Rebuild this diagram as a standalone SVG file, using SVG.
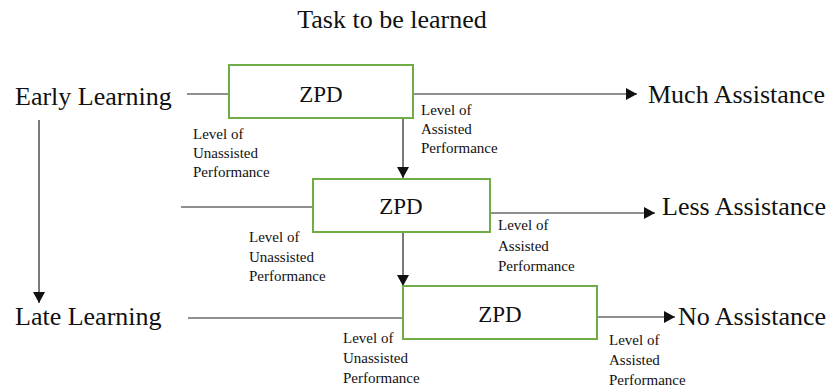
<svg xmlns="http://www.w3.org/2000/svg" width="834" height="392" viewBox="0 0 834 392">
<style>
text{font-family:"Liberation Serif","Times New Roman",serif;fill:#111}
.big{font-size:26px}
.zpd{font-size:23px;text-anchor:middle}
.lbl{font-size:15px}
.box{fill:#fff;stroke:#70AD47;stroke-width:2}
.con{stroke:#222;stroke-width:1.2;fill:none}
</style>
<defs>
<marker id="ah" markerUnits="userSpaceOnUse" markerWidth="11" markerHeight="12" viewBox="0 0 11 12" refX="11" refY="6" orient="auto">
<path d="M0,0 L11,6 L0,12 z" fill="#111"/>
</marker>
</defs>
<rect width="834" height="392" fill="#fff"/>
<text id="title" class="big" x="392" y="28" text-anchor="middle">Task to be learned</text>

<g id="connectors">
<line class="con" x1="187" y1="94" x2="229" y2="94"/>
<line class="con" x1="413" y1="94" x2="637" y2="94" marker-end="url(#ah)"/>
<line class="con" x1="403" y1="118" x2="403" y2="178" marker-end="url(#ah)"/>
<line class="con" x1="181" y1="207" x2="313" y2="207"/>
<line class="con" x1="490" y1="213" x2="655" y2="213" marker-end="url(#ah)"/>
<line class="con" x1="403" y1="232" x2="403" y2="286" marker-end="url(#ah)"/>
<line class="con" x1="188" y1="318" x2="403" y2="318"/>
<line class="con" x1="597" y1="317" x2="675" y2="317" marker-end="url(#ah)"/>
<line class="con" x1="39" y1="120" x2="39" y2="303" marker-end="url(#ah)"/>
</g>

<g id="early"><text class="big" x="15" y="105">Early Learning</text></g>
<g id="late"><text class="big" x="15" y="325">Late Learning</text></g>

<g id="zpd1">
<rect class="box" x="229" y="65" width="184" height="53"/>
<text class="zpd" x="321" y="102">ZPD</text>
</g>
<g id="zpd2">
<rect class="box" x="313" y="179" width="177" height="53"/>
<text class="zpd" x="401" y="214">ZPD</text>
</g>
<g id="zpd3">
<rect class="box" x="403" y="286" width="194" height="53"/>
<text class="zpd" x="500" y="322">ZPD</text>
</g>

<g id="much"><text class="big" x="648" y="103">Much Assistance</text></g>
<g id="less"><text class="big" x="662" y="215">Less Assistance</text></g>
<g id="none"><text class="big" x="678" y="325">No Assistance</text></g>

<g id="lbl1u"><text class="lbl" x="193" y="139">Level of</text><text class="lbl" x="193" y="158">Unassisted</text><text class="lbl" x="193" y="177">Performance</text></g>
<g id="lbl1a"><text class="lbl" x="421" y="115">Level of</text><text class="lbl" x="421" y="134">Assisted</text><text class="lbl" x="421" y="153">Performance</text></g>
<g id="lbl2u"><text class="lbl" x="249" y="242">Level of</text><text class="lbl" x="249" y="262">Unassisted</text><text class="lbl" x="249" y="281">Performance</text></g>
<g id="lbl2a"><text class="lbl" x="498" y="230">Level of</text><text class="lbl" x="498" y="251">Assisted</text><text class="lbl" x="498" y="271">Performance</text></g>
<g id="lbl3u"><text class="lbl" x="343" y="343">Level of</text><text class="lbl" x="343" y="363">Unassisted</text><text class="lbl" x="343" y="383">Performance</text></g>
<g id="lbl3a"><text class="lbl" x="609" y="345">Level of</text><text class="lbl" x="609" y="365">Assisted</text><text class="lbl" x="609" y="385">Performance</text></g>
</svg>
